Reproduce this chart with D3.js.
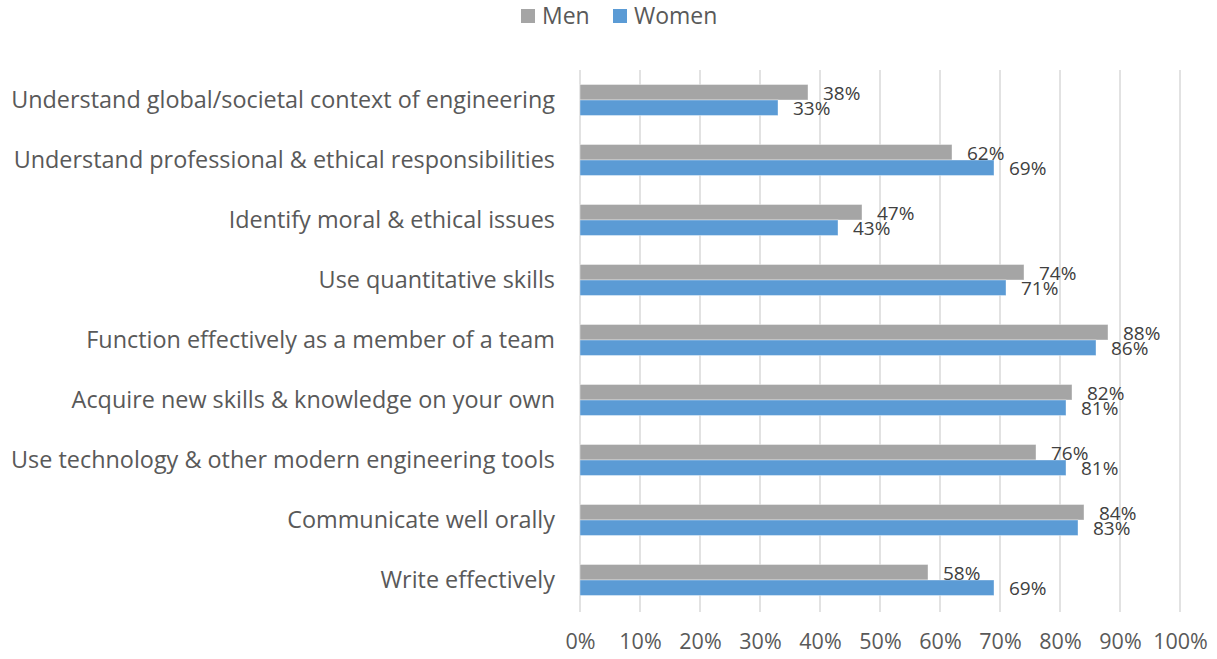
<!DOCTYPE html>
<html>
<head>
<meta charset="utf-8">
<script src="https://cdn.jsdelivr.net/npm/d3@7/dist/d3.min.js"></script>
<style>
  html, body { margin: 0; padding: 0; background: #fff; }
  svg { display: block; font-family: "Open Sans", "Noto Sans", sans-serif; }
</style>
</head>
<body>
<svg id="chart" width="1217" height="659"></svg>
<script>
// Skill categories, listed top to bottom
const categories = [
  "Understand global/societal context of engineering",
  "Understand professional & ethical responsibilities",
  "Identify moral & ethical issues",
  "Use quantitative skills",
  "Function effectively as a member of a team",
  "Acquire new skills & knowledge on your own",
  "Use technology & other modern engineering tools",
  "Communicate well orally",
  "Write effectively"
];
const seriesNames = ["Men", "Women"];
const menValues   = [0.38, 0.62, 0.47, 0.74, 0.88, 0.82, 0.76, 0.84, 0.58];
const womenValues = [0.33, 0.69, 0.43, 0.71, 0.86, 0.81, 0.81, 0.83, 0.69];
const tickValues  = [0, 0.1, 0.2, 0.3, 0.4, 0.5, 0.6, 0.7, 0.8, 0.9, 1.0];
const seriesColors = ["#A5A5A5", "#5B9BD5"];

const textColor = "#595959";
const svg = d3.select("#chart");

const x = d3.scaleLinear().domain([0, 1]).range([580, 1180]);
const y = d3.scaleBand().domain(categories).range([70, 610])
  .paddingInner(0.4833).paddingOuter(0.24165);
const ySub = d3.scaleBand().domain(seriesNames).range([0, y.bandwidth()]);
const color = d3.scaleOrdinal().domain(seriesNames).range(seriesColors);

const valuesBySeries = { Men: menValues, Women: womenValues };

// Vertical gridlines
svg.append("g")
  .selectAll("line")
  .data(tickValues)
  .join("line")
  .attr("x1", d => x(d)).attr("x2", d => x(d))
  .attr("y1", 70).attr("y2", 612)
  .attr("stroke", "#D9D9D9")
  .attr("stroke-width", 1.5);

// X axis tick labels
const xAxis = d3.axisBottom(x)
  .tickValues(tickValues)
  .tickFormat(d3.format(".0%"))
  .tickSize(0)
  .tickPadding(0);
const gx = svg.append("g")
  .attr("transform", "translate(0,634)")
  .call(xAxis);
gx.select(".domain").remove();
gx.selectAll("text")
  .attr("fill", textColor)
  .attr("font-size", 21.5)
  .attr("font-family", "'Open Sans', sans-serif");

// Category labels
const yAxis = d3.axisLeft(y).tickSize(0).tickPadding(0);
const gy = svg.append("g")
  .attr("transform", "translate(555,0)")
  .call(yAxis);
gy.select(".domain").remove();
gy.selectAll("text")
  .attr("fill", textColor)
  .attr("font-size", 23.4)
  .attr("dy", "0.33em")
  .attr("font-family", "'Open Sans', sans-serif");

// Bars and value labels
const rows = [];
categories.forEach((c, i) => {
  seriesNames.forEach(s => rows.push({ category: c, series: s, value: valuesBySeries[s][i] }));
});

svg.append("g")
  .selectAll("rect")
  .data(rows)
  .join("rect")
  .attr("x", x(0))
  .attr("y", d => y(d.category) + ySub(d.series))
  .attr("width", d => x(d.value) - x(0))
  .attr("height", ySub.bandwidth())
  .attr("fill", d => color(d.series))
  .attr("stroke", "#ffffff")
  .attr("stroke-opacity", 0.5)
  .attr("stroke-width", 0.75);

svg.append("g")
  .selectAll("text")
  .data(rows)
  .join("text")
  .attr("x", d => x(d.value) + 15)
  .attr("y", d => y(d.category) + ySub(d.series) + ySub.bandwidth() / 2 + 1)
  .attr("dy", "0.35em")
  .attr("fill", "#404040")
  .attr("font-size", 19)
  .text(d => d3.format(".0%")(d.value));

// Legend
const legend = svg.append("g").attr("transform", "translate(521,9)");
const legendItems = legend.selectAll("g")
  .data(seriesNames)
  .join("g")
  .attr("transform", (d, i) => `translate(${i * 92},0)`);
legendItems.append("rect")
  .attr("width", 14).attr("height", 14)
  .attr("fill", d => color(d));
legendItems.append("text")
  .attr("x", 21).attr("y", 7)
  .attr("dy", "0.35em")
  .attr("fill", textColor)
  .attr("font-size", 23)
  .text(d => d);
</script>
</body>
</html>
